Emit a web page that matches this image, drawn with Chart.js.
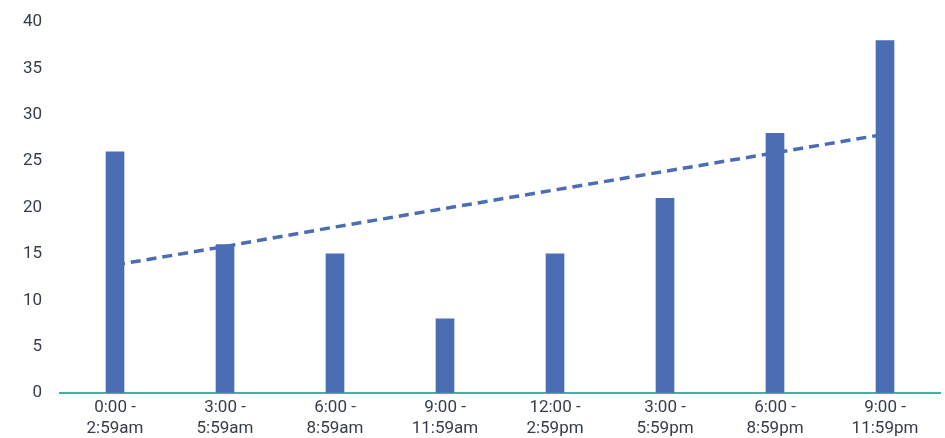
<!DOCTYPE html>
<html>
<head>
<meta charset="utf-8">
<script src="https://cdn.jsdelivr.net/npm/chart.js@4/dist/chart.umd.min.js"></script>
<style>
  html, body { margin: 0; padding: 0; background: #fff; }
  #wrap { width: 945px; height: 438px; }
</style>
</head>
<body>
<div id="wrap"><canvas id="myChart" width="945" height="438"></canvas></div>
<script>
// data
const timeSlots = [
    ["0:00 -", "2:59am"],
    ["3:00 -", "5:59am"],
    ["6:00 -", "8:59am"],
    ["9:00 -", "11:59am"],
    ["12:00 -", "2:59pm"],
    ["3:00 -", "5:59pm"],
    ["6:00 -", "8:59pm"],
    ["9:00 -", "11:59pm"],
];
const counts = [26, 16, 15, 8, 15, 21, 28, 38];
const trendValues = [13.8, 15.8, 17.9, 19.9, 21.9, 23.9, 25.9, 27.9];
const yTicks = [0, 5, 10, 15, 20, 25, 30, 35, 40];

const blue = "#4a6db4";
const textColor = "#363d4a";

let ctx = document.getElementById("myChart").getContext("2d");

let myChart = new Chart(ctx, {
    type: "bar",
    data: {
        labels: timeSlots,
        datasets: [
            {
                type: "bar",
                data: counts,
                backgroundColor: blue,
                barThickness: 18,
                order: 0,
            },
            {
                type: "line",
                data: trendValues,
                borderColor: blue,
                borderWidth: 3.5,
                borderDash: [10, 6],
                pointRadius: 0,
                fill: false,
                order: 1,
            },
        ],
    },
    options: {
        responsive: false,
        animation: false,
        layout: { padding: { top: 22, right: 5, left: 0, bottom: 0 } },
        plugins: {
            legend: { display: false },
            tooltip: { enabled: false },
        },
        scales: {
            x: {
                grid: { display: false, drawTicks: false },
                border: { color: "#3cb3a6", width: 2 },
                ticks: {
                    color: textColor,
                    font: { family: "Roboto", size: 17 },
                    padding: 5,
                    maxRotation: 0,
                    autoSkip: false,
                },
                afterFit: (axis) => { axis.height = 45; },
            },
            y: {
                min: 0,
                max: 40,
                afterBuildTicks: (axis) => { axis.ticks = yTicks.map((v) => ({ value: v })); },
                // invisible tick marks just to push labels left
                grid: { drawOnChartArea: false, drawTicks: true, tickLength: 12, color: "rgba(0,0,0,0)" },
                border: { display: false },
                ticks: {
                    color: textColor,
                    font: { family: "Roboto", size: 17 },
                    padding: 6,
                },
                afterFit: (axis) => { axis.width = 60; },
            },
        },
    },
});
</script>
</body>
</html>
